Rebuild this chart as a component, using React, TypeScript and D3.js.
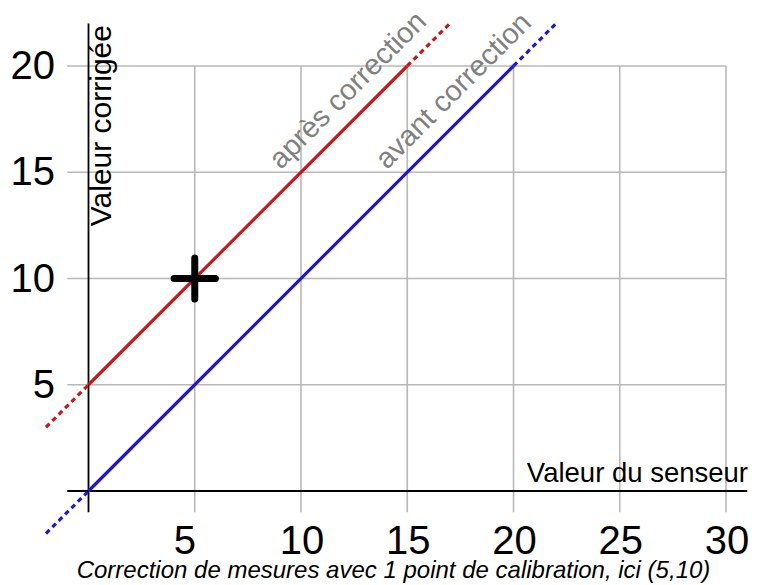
import React from "react";
import * as d3 from "d3";

const xTicks = [5, 10, 15, 20, 25, 30];
const yTicks = [5, 10, 15, 20];
// lines: [x, y] segments
const redSolid: [number, number][] = [[0, 5], [15, 20]];
const redDashLow: [number, number][] = [[-2, 3], [0, 5]];
const redDashHigh: [number, number][] = [[15, 20], [17, 22]];
const blueSolid: [number, number][] = [[0, 0], [20, 20]];
const blueDashLow: [number, number][] = [[-2, -2], [0, 0]];
const blueDashHigh: [number, number][] = [[20, 20], [22, 22]];
const calibPoint: [number, number] = [5, 10];
const labelAfter = { text: "après correction", x: 9.05, y: 15.1 };
const labelBefore = { text: "avant correction", x: 14.05, y: 15.1 };
const xAxisLabel = "Valeur du senseur";
const yAxisLabel = "Valeur corrigée";
const title = "Correction de mesures avec 1 point de calibration, ici (5,10)";

const W = 770;
const H = 585;
const FONT = "'Liberation Sans', Arial, Helvetica, sans-serif";
const RED = "#c41a1e";
const BLUE = "#2417c4";
const GRID = "#b8b8b8";

export default function App() {
  const x = d3.scaleLinear().domain([0, 30]).range([88.5, 726]);
  const y = d3.scaleLinear().domain([0, 20]).range([491, 66]);
  const line = d3
    .line<[number, number]>()
    .x((d) => x(d[0]))
    .y((d) => y(d[1]));

  const ang = -45;
  return (
    <svg
      width={W}
      height={H}
      style={{ position: "absolute", left: 0, top: 0, background: "#fff" }}
      fontFamily={FONT}
    >
      {/* grid */}
      {yTicks.map((t) => (
        <line key={"gy" + t} x1={x(-1)} x2={x(30)} y1={y(t)} y2={y(t)} stroke={GRID} strokeWidth={1.6} />
      ))}
      {xTicks.map((t) => (
        <line key={"gx" + t} x1={x(t)} x2={x(t)} y1={y(-1)} y2={y(20)} stroke={GRID} strokeWidth={1.6} />
      ))}
      {/* axes */}
      <line x1={x(-1)} x2={x(31)} y1={y(0)} y2={y(0)} stroke="#000" strokeWidth={1.8} />
      <line x1={x(0)} x2={x(0)} y1={y(-1)} y2={y(22)} stroke="#000" strokeWidth={1.8} />
      {/* tick labels */}
      {xTicks.map((t, i) => (
        <text key={"tx" + t} x={x(t)} dx={i === 0 ? -10 : 1} y={554} textAnchor="middle" fontSize={40} fill="#000">
          {t}
        </text>
      ))}
      {yTicks.map((t) => (
        <text key={"ty" + t} x={55} y={y(t)} dy={13} textAnchor="end" fontSize={40} fill="#000">
          {t}
        </text>
      ))}
      {/* lines */}
      <path d={line(redSolid) || ""} stroke={RED} strokeWidth={3.2} fill="none" />
      <path d={line(redDashLow) || ""} stroke={RED} strokeWidth={3.2} fill="none" strokeDasharray="5,4" />
      <path d={line(redDashHigh) || ""} stroke={RED} strokeWidth={3.2} fill="none" strokeDasharray="5,4" />
      <path d={line(blueSolid) || ""} stroke={BLUE} strokeWidth={3.2} fill="none" />
      <path d={line(blueDashLow) || ""} stroke={BLUE} strokeWidth={3.2} fill="none" strokeDasharray="5,4" />
      <path d={line(blueDashHigh) || ""} stroke={BLUE} strokeWidth={3.2} fill="none" strokeDasharray="5,4" />
      {/* calibration cross */}
      <line x1={x(calibPoint[0] - 0.97)} x2={x(calibPoint[0] + 0.97)} y1={y(calibPoint[1])} y2={y(calibPoint[1])} stroke="#000" strokeWidth={7} strokeLinecap="round" />
      <line x1={x(calibPoint[0])} x2={x(calibPoint[0])} y1={y(calibPoint[1] - 0.97)} y2={y(calibPoint[1] + 0.97)} stroke="#000" strokeWidth={7} strokeLinecap="round" />
      {/* line labels */}
      {[labelAfter, labelBefore].map((l) => (
        <text
          key={l.text}
          transform={`translate(${x(l.x)},${y(l.y)}) rotate(${ang})`}
          fontSize={29}
          fill="#808080"
        >
          {l.text}
        </text>
      ))}
      {/* axis labels */}
      <text x={748} y={482} textAnchor="end" fontSize={27.5} fill="#000">
        {xAxisLabel}
      </text>
      <text transform={`translate(111,25) rotate(-90)`} textAnchor="end" fontSize={30} fill="#000">
        {yAxisLabel}
      </text>
      <text x={393.5} y={578} textAnchor="middle" fontSize={24} fontStyle="italic" fill="#000">
        {title}
      </text>
    </svg>
  );
}
